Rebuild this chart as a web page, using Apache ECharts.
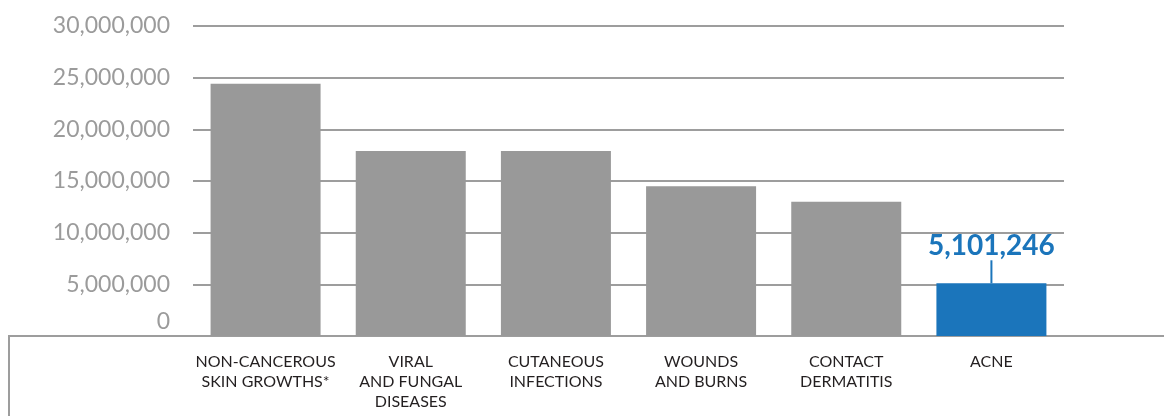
<!DOCTYPE html>
<html>
<head>
<meta charset="utf-8">
<script src="https://cdn.jsdelivr.net/npm/echarts@6/dist/echarts.min.js"></script>
<style>
  html, body { margin: 0; padding: 0; background: #fff; }
  #chart { width: 1164px; height: 416px; }
</style>
</head>
<body>
<div id="chart"></div>
<script>
// categories and values
const categories = [
  'NON-CANCEROUS\nSKIN GROWTHS*',
  'VIRAL\nAND FUNGAL\nDISEASES',
  'CUTANEOUS\nINFECTIONS',
  'WOUNDS\nAND BURNS',
  'CONTACT\nDERMATITIS',
  'ACNE'
];
const values = [24400000, 17900000, 17900000, 14500000, 13000000, 5101246];
const highlightIndex = 5;
const yTicks = [0, 5000000, 10000000, 15000000, 20000000, 25000000, 30000000];

const GRAY = '#999999';
const BLUE = '#1b75bb';
const LINE = '#9d9d9d';
const FONT = 'Lato';

const fmt = v => v.toLocaleString('en-US');

const barData = values.map((v, i) => {
  if (i !== highlightIndex) return {value: v, itemStyle: {color: GRAY}};
  return {
    value: v,
    itemStyle: {color: BLUE},
    label: {
      show: true,
      position: 'top',
      distance: 0,
      formatter: p => '{v|' + fmt(p.value) + '}\n{l|}',
      rich: {
        v: {fontFamily: FONT, fontSize: 28, fontWeight: 'bold', color: BLUE, lineHeight: 28, align: 'center'},
        l: {width: 2, height: 23, backgroundColor: BLUE, align: 'center'}
      }
    }
  };
});

const chart = echarts.init(document.getElementById('chart'));
chart.setOption({
  animation: false,
  grid: {left: 193, right: 100, top: 26, bottom: 80, containLabel: false},
  xAxis: {
    type: 'category',
    data: categories,
    axisLine: {show: false},
    axisTick: {show: false},
    axisLabel: {
      margin: 16,
      fontFamily: FONT,
      fontSize: 16,
      lineHeight: 20,
      color: '#231f20',
      interval: 0
    }
  },
  yAxis: {
    type: 'value',
    min: yTicks[0],
    max: yTicks[yTicks.length - 1],
    interval: yTicks[1] - yTicks[0],
    axisLine: {show: false},
    axisTick: {show: false},
    splitLine: {lineStyle: {color: LINE, width: 2}},
    axisLabel: {
      margin: 23,
      fontFamily: FONT,
      fontSize: 23,
      color: '#9b9b9b',
      formatter: v => v === 0 ? '{z|0}' : fmt(v),
      rich: {
        z: {fontFamily: FONT, fontSize: 23, color: '#9b9b9b', padding: [0, 0, 28, 0]}
      }
    }
  },
  series: [{
    type: 'bar',
    barWidth: 110,
    data: barData
  }],
  graphic: [{
    type: 'polyline',
    silent: true,
    shape: {points: [[9, 416], [9, 336], [1164, 336]]},
    style: {stroke: LINE, lineWidth: 2, fill: null}
  }]
});
</script>
</body>
</html>
